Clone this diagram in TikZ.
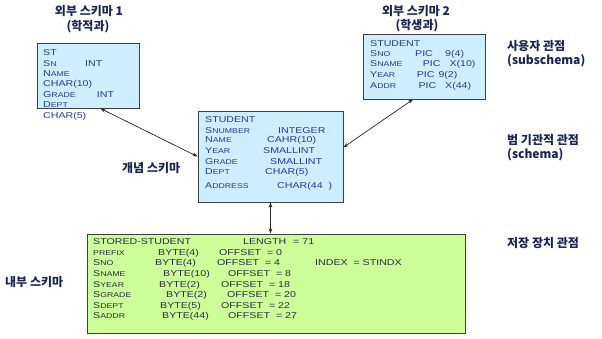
\documentclass[tikz,border=0pt]{standalone}
\usepackage{fontspec}
\usetikzlibrary{arrows.meta,calc}
\newfontfamily\boxfont[FakeStretch=1.25]{Liberation Sans}
\newfontfamily\korfont{Noto Sans CJK KR}
\definecolor{boxblue}{HTML}{CCEEFF}
\definecolor{boxgreen}{HTML}{CCFF99}
\definecolor{boxline}{HTML}{404040}
\definecolor{bluetext}{HTML}{263C94}
\definecolor{greentext}{HTML}{2A2A40}
\definecolor{labeltext}{HTML}{1A2550}
\newcommand\sm[1]{{\fontsize{7}{7}\selectfont #1}}
\tikzset{
  bluebox/.style={draw=boxline, line width=0.9pt, fill=boxblue, inner sep=0pt},
  greenbox/.style={draw=boxline, line width=0.9pt, fill=boxgreen, inner sep=0pt},
  ftext/.style={anchor=base west, inner sep=0pt, font=\boxfont\fontsize{8.5}{10}\selectfont, text=bluetext},
  gtext/.style={ftext, text=greentext},
  klabel/.style={inner sep=0pt, font=\korfont\bfseries\fontsize{12}{14}\selectfont, text=labeltext},
  conn/.style={line width=0.7pt, draw=black!85, {Stealth[length=5pt,width=3.5pt]}-{Stealth[length=5pt,width=3.5pt]}}
}
\begin{document}
\begin{tikzpicture}[x=1pt,y=-1pt]
\useasboundingbox (0,0) rectangle (602,338);
% boxes
\node[bluebox, minimum width=102pt, minimum height=65pt] (ext1) at (88,75.5) {};
\node[bluebox, minimum width=122pt, minimum height=65pt] (ext2) at (424,66.5) {};
\node[bluebox, minimum width=145pt, minimum height=91pt] (concept) at (270.5,156.5) {};
\node[greenbox, minimum width=378pt, minimum height=99pt] (internal) at (276,283.5) {};
% labels
\node[klabel] (t1) at (89,11) {외부 스키마 1};
\node[klabel] (t1b) at (88,27) {(학적과)};
\node[klabel] (t2) at (416,11.5) {외부 스키마 2};
\node[klabel] (t2b) at (417,26) {(학생과)};
\node[klabel, anchor=west] (v1) at (507,46.5) {사용자 관점};
\node[klabel, anchor=west] (v1b) at (507,61) {(subschema)};
\node[klabel, anchor=west] (v2) at (507,140) {범 기관적 관점};
\node[klabel, anchor=west] (v2b) at (507,155) {(schema)};
\node[klabel, anchor=west] (v3) at (507,243) {저장 장치 관점};
\node[klabel, anchor=west] (cl) at (122,168) {개념 스키마};
\node[klabel, anchor=west] (il) at (5,282) {내부 스키마};
% external schema 1
\node[ftext] (a1) at (43,55) {ST};
\node[ftext] (a2) at (43,66) {S\sm{N}};
\node[ftext] (a2b) at (85,66) {INT};
\node[ftext] (a3) at (43,76) {N\sm{AME}};
\node[ftext] (a4) at (43,86) {CHAR(10)};
\node[ftext] (a5) at (43,97) {G\sm{RADE}};
\node[ftext] (a5b) at (96.7,97) {INT};
\node[ftext] (a6) at (43,107) {D\sm{EPT}};
\node[ftext] (a7) at (43,118) {CHAR(5)};
% external schema 2
\node[ftext] (b1) at (370,46.7) {STUDENT};
\node[ftext] (b2) at (370,56.7) {S\sm{NO}};
\node[ftext] (b2b) at (415,56.7) {PIC};
\node[ftext] (b2c) at (445,56.7) {9(4)};
\node[ftext] (b3) at (370,66.7) {S\sm{NAME}};
\node[ftext] (b3b) at (422.7,66.7) {PIC};
\node[ftext] (b3c) at (449.3,66.7) {X(10)};
\node[ftext] (b4) at (370,77) {Y\sm{EAR}};
\node[ftext] (b4b) at (416.7,77) {PIC};
\node[ftext] (b4c) at (438.3,77) {9(2)};
\node[ftext] (b5) at (370,88) {A\sm{DDR}};
\node[ftext] (b5b) at (418.3,88) {PIC};
\node[ftext] (b5c) at (445,88) {X(44)};
% conceptual schema
\node[ftext] (c1) at (205,122.3) {STUDENT};
\node[ftext] (c2) at (205,133.3) {S\sm{NUMBER}};
\node[ftext] (c2b) at (278,133.3) {INTEGER};
\node[ftext] (c3) at (205,142.7) {N\sm{AME}};
\node[ftext] (c3b) at (267,142.7) {CAHR(10)};
\node[ftext] (c4) at (205,153.3) {Y\sm{EAR}};
\node[ftext] (c4b) at (263,153.3) {SMALLINT};
\node[ftext] (c5) at (205,164) {G\sm{RADE}};
\node[ftext] (c5b) at (270,164) {SMALLINT};
\node[ftext] (c6) at (205,174.3) {D\sm{EPT}};
\node[ftext] (c6b) at (265,174.3) {CHAR(5)};
\node[ftext] (c7) at (205,188.3) {A\sm{DDRESS}};
\node[ftext] (c7b) at (277,188.3) {CHAR(44~~)};
% internal schema
\node[gtext] (d1) at (93,244.3) {STORED-STUDENT};
\node[gtext] (d1b) at (243,244.3) {LENGTH};
\node[gtext] (d1c) at (293,244.3) {= 71};
\node[gtext] (d2) at (93,255.7) {\sm{PREFIX}};
\node[gtext] (d2b) at (158,255.7) {BYTE(4)};
\node[gtext] (d2c) at (219,255.7) {OFFSET~~= 0};
\node[gtext] (d3) at (93,265.7) {S\sm{NO}};
\node[gtext] (d3b) at (155,265.7) {BYTE(4)};
\node[gtext] (d3c) at (217,265.7) {OFFSET~~= 4};
\node[gtext] (d3d) at (315,265.7) {INDEX~~= STINDX};
\node[gtext] (d4) at (93,276.7) {S\sm{NAME}};
\node[gtext] (d4b) at (163,276.7) {BYTE(10)};
\node[gtext] (d4c) at (228,276.7) {OFFSET~~= 8};
\node[gtext] (d5) at (93,287) {S\sm{YEAR}};
\node[gtext] (d5b) at (159,287) {BYTE(2)};
\node[gtext] (d5c) at (221,287) {OFFSET~~= 18};
\node[gtext] (d6) at (93,297.7) {S\sm{GRADE}};
\node[gtext] (d6b) at (166,297.7) {BYTE(2)};
\node[gtext] (d6c) at (227,297.7) {OFFSET~~= 20};
\node[gtext] (d7) at (93,308.3) {S\sm{DEPT}};
\node[gtext] (d7b) at (160,308.3) {BYTE(5)};
\node[gtext] (d7c) at (221,308.3) {OFFSET~~= 22};
\node[gtext] (d8) at (93,318.7) {S\sm{ADDR}};
\node[gtext] (d8b) at (162,318.7) {BYTE(44)};
\node[gtext] (d8c) at (228,318.7) {OFFSET~~= 27};
% connectors
\coordinate (e1s) at ($(ext1.south west)!0.62!(ext1.south east)$);
\coordinate (e2s) at ($(ext2.south west)!0.41!(ext2.south east)$);
\coordinate (ce) at ($(concept.north east)!0.40!(concept.south east)$);
\draw[conn] (e1s) -- (concept.west);
\draw[conn] (e2s) -- (ce);
\draw[conn] (concept.south) -- (concept.south |- internal.north);
\end{tikzpicture}
\end{document}
